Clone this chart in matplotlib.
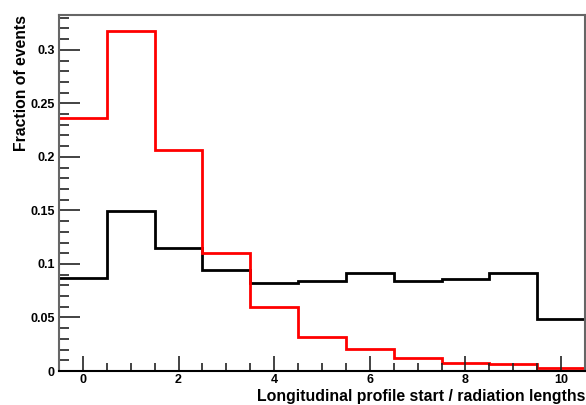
import matplotlib.pyplot as plt
import numpy as np
from matplotlib.ticker import MultipleLocator

plt.rcParams['font.family'] = ['Liberation Sans', 'DejaVu Sans']

bin_edges = np.arange(-0.5, 11.0, 1.0)
frac_red = [0.2365, 0.3175, 0.2063, 0.1099, 0.0595, 0.0315, 0.0203, 0.0121, 0.0078, 0.0065, 0.0028]
frac_black = [0.0865, 0.1490, 0.1150, 0.0940, 0.0819, 0.0843, 0.0912, 0.0837, 0.0856, 0.0912, 0.0486]

fig = plt.figure(figsize=(5.86, 4.05), dpi=100)
ax = fig.add_axes([59/586, 1 - 371/405, (585-59)/586, (371-15)/405])

ax.stairs(frac_black, bin_edges, baseline=None, color='black', linewidth=2)
ax.stairs(frac_red, bin_edges, baseline=None, color='#ff0000', linewidth=2)

ax.set_xlim(-0.5, 10.5)
ax.set_ylim(0, 0.3325)

ax.xaxis.set_major_locator(MultipleLocator(2))
ax.xaxis.set_minor_locator(MultipleLocator(0.5))
ax.yaxis.set_minor_locator(MultipleLocator(0.01))
ax.set_yticks([0, 0.05, 0.1, 0.15, 0.2, 0.25, 0.3])
ax.set_yticklabels(['0', '0.05', '0.1', '0.15', '0.2', '0.25', '0.3'])

ax.tick_params(axis='both', which='both', direction='in', colors='#222222', width=1.2,
               labelsize=9, labelcolor='black')
ax.tick_params(axis='x', which='major', length=11, pad=2)
ax.tick_params(axis='x', which='minor', length=6)
ax.tick_params(axis='y', which='major', length=15, pad=3)
ax.tick_params(axis='y', which='minor', length=7)
for lbl in ax.get_xticklabels() + ax.get_yticklabels():
    lbl.set_fontweight('bold')

for side in ['left', 'top', 'right']:
    ax.spines[side].set_color('#666666')
    ax.spines[side].set_linewidth(1.5)
ax.spines['bottom'].set_color('black')
ax.spines['bottom'].set_linewidth(1.5)

ax.set_xlabel('Longitudinal profile start / radiation lengths', fontsize=11.4,
              fontweight='bold', loc='right', labelpad=2)
ax.set_ylabel('Fraction of events', fontsize=11.3, fontweight='bold', loc='top',
              labelpad=1)

fig.savefig('out.png', dpi=100)
